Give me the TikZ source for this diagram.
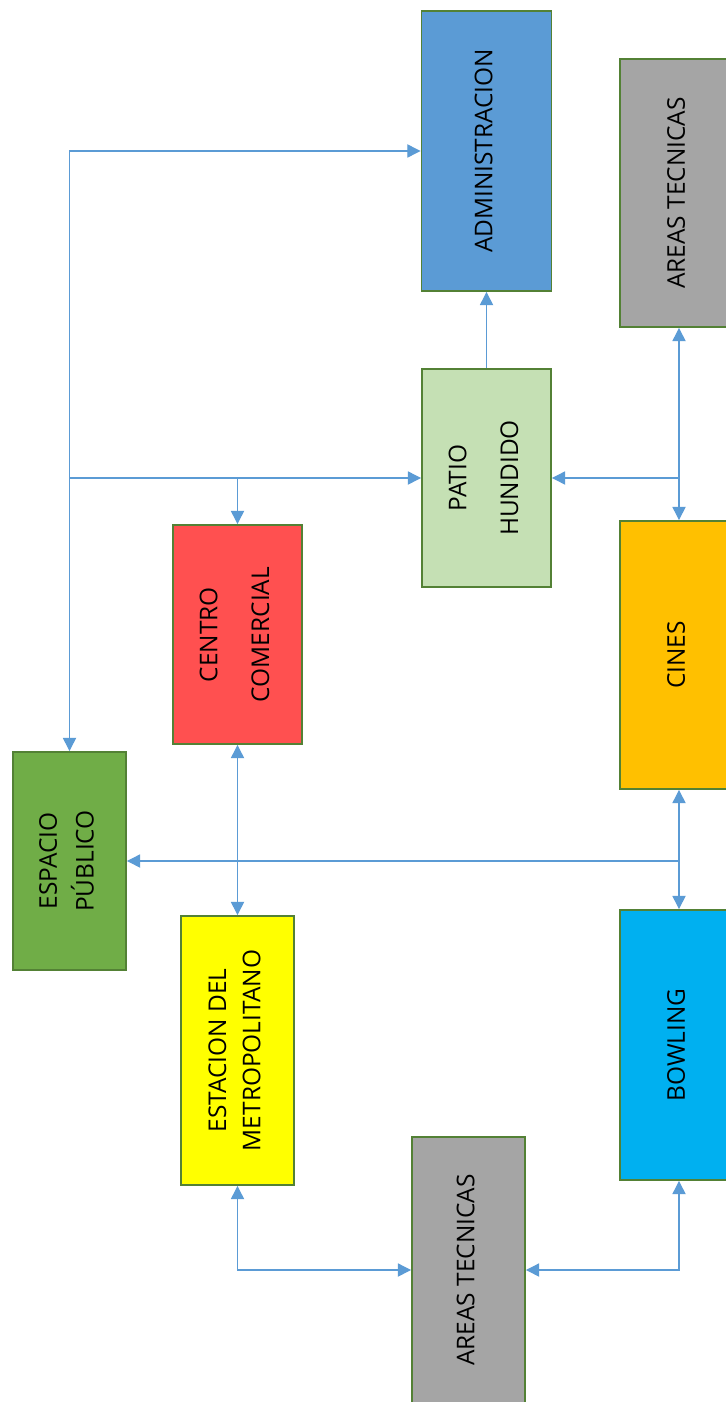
\documentclass[tikz,border=0pt]{standalone}
\usepackage{fontspec}
\setmainfont{Open Sans}
\usepackage{graphicx}
\usetikzlibrary{arrows.meta}

\definecolor{adminblue}{HTML}{5B9BD5}
\definecolor{techgray}{HTML}{A5A5A5}
\definecolor{patiogreen}{HTML}{C5E0B4}
\definecolor{comred}{HTML}{FF5050}
\definecolor{cinesorange}{HTML}{FFC000}
\definecolor{publicgreen}{HTML}{70AD47}
\definecolor{metroyellow}{HTML}{FFFF00}
\definecolor{bowlblue}{HTML}{00B0F0}
\definecolor{boxedge}{HTML}{538135}
\definecolor{linkblue}{HTML}{5B9BD5}

\newcommand{\vlabel}[1]{\rotatebox{90}{\begin{tabular}{@{}c@{}}#1\end{tabular}}}

\tikzset{
  area/.style = {draw=boxedge, line width=1.1pt, inner sep=0pt,
                 font=\fontsize{13.9}{16.5}\selectfont},
  link/.style = {draw=linkblue, line width=0.7pt,
                 arrows={-Triangle[length=7.5pt,width=7.5pt]}},
  duallink/.style = {link, arrows={Triangle[length=7.5pt,width=7.5pt]-Triangle[length=7.5pt,width=7.5pt]}}
}

\begin{document}
\begin{tikzpicture}[x=0.02cm, y=-0.02cm]
    \clip (0,0) rectangle (726,1402);
    \fill[white] (0,0) rectangle (726,1402);

    \node[area, fill=adminblue, minimum width=2.6cm, minimum height=5.6cm] (admin) at (486.5,151) {\vlabel{ADMINISTRACION}};
    \node[area, fill=techgray, minimum width=2.36cm, minimum height=5.36cm] (tecnicasA) at (679,193) {\vlabel{AREAS TECNICAS}};
    \node[area, fill=patiogreen, minimum width=2.58cm, minimum height=4.36cm] (patio) at (486.5,478) {\vlabel{PATIO\\[13pt]HUNDIDO}};
    \node[area, fill=comred, minimum width=2.58cm, minimum height=4.38cm] (centro) at (237.5,634.5) {\vlabel{CENTRO\\[13pt]COMERCIAL}};
    \node[area, fill=cinesorange, minimum width=2.36cm, minimum height=5.36cm] (cines) at (679,655) {\vlabel{CINES}};
    \node[area, fill=publicgreen, minimum width=2.26cm, minimum height=4.36cm] (espacio) at (69.5,861) {\vlabel{ESPACIO\\[3pt]PÚBLICO}};
    \node[area, fill=metroyellow, minimum width=2.26cm, minimum height=5.38cm] (estacion) at (237.5,1050.5) {\vlabel{ESTACION DEL\\[3pt]METROPOLITANO}};
    \node[area, fill=bowlblue, minimum width=2.36cm, minimum height=5.4cm] (bowling) at (679,1045) {\vlabel{BOWLING}};
    \node[area, fill=techgray, minimum width=2.26cm, minimum height=5.32cm] (tecnicasB) at (468.5,1270) {\vlabel{AREAS TECNICAS}};

    \draw[duallink] (espacio.north) |- (admin.west);
    \coordinate (split) at (espacio.north |- patio.west);
    \draw[link] (split) -- (patio.west);
    \draw[link] (centro.north |- patio.west) -- (centro.north);
    \draw[link] (patio.north) -- (admin.south);

    \draw[duallink] (tecnicasA.south) -- (cines.north);
    \draw[link] (tecnicasA.south |- patio.east) -- (patio.east);

    \draw[duallink] (centro.south) -- (estacion.north);
    \draw[duallink] (cines.south) -- (bowling.north);
    \draw[link] (cines.south |- espacio.east) -- (espacio.east);

    \draw[duallink] (estacion.south) |- (tecnicasB.west);
    \draw[duallink] (bowling.south) |- (tecnicasB.east);
\end{tikzpicture}
\end{document}
